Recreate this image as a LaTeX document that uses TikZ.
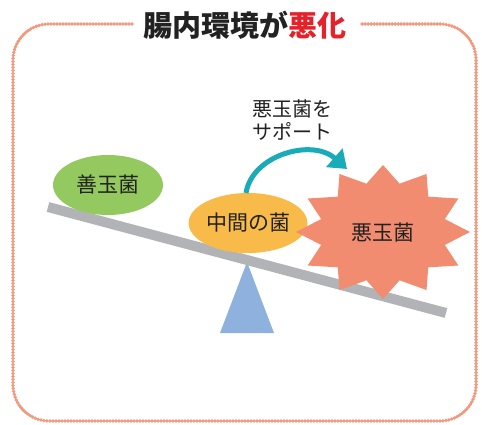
\documentclass[tikz,border=0pt]{standalone}
\usepackage{fontspec}
\newfontfamily\cjk{Noto Sans CJK JP}
\usetikzlibrary{arrows.meta,shapes.geometric}
\definecolor{bordc}{HTML}{F19A7D}
\definecolor{goodc}{HTML}{93C95F}
\definecolor{midc}{HTML}{F8BB4A}
\definecolor{badc}{HTML}{F28C70}
\definecolor{beamc}{HTML}{B2B3B6}
\definecolor{fulc}{HTML}{8FB1DD}
\definecolor{arrc}{HTML}{19ABB8}
\definecolor{redc}{HTML}{E62129}
\definecolor{txtc}{HTML}{222222}
\tikzset{
  border/.style={draw=bordc,line width=3.8pt,line cap=round,dash pattern=on 0pt off 3pt,rounded corners=36pt},
  blob/.style={ellipse,inner sep=0pt,font=\cjk\fontsize{21}{21}\selectfont,text=txtc},
  lbl/.style={font=\cjk\fontsize{20}{23.5}\selectfont,text=txtc,align=center,inner sep=0pt},
}
\begin{document}
\begin{tikzpicture}[x=1pt,y=-1pt]
\useasboundingbox (0,0) rectangle (482,425);
% frame with gap for title
\draw[border] (132,24) -- (13,24) -- (13,421) -- (476,421) -- (476,24) -- (360,24);
\node[font=\cjk\bfseries\fontsize{29}{29}\selectfont,text=txtc,inner sep=0pt] (title) at (245,25) {腸内環境が\textcolor{redc}{悪化}};
% fulcrum
\fill[fulc] (220,333) -- (274,333) -- (247,262) -- cycle;
\node[coordinate] (fulcrum) at (247,262) {};
% beam
\coordinate (bl) at (48,207);
\coordinate (br) at (446,313);
\draw[beamc,line width=10pt] (bl) -- (br);
% good bacteria
\node[blob,fill=goodc,minimum width=110pt,minimum height=60pt] (good) at (108,185) {善玉菌};
% middle bacteria
\node[blob,fill=midc,minimum width=103pt,minimum height=60pt] (mid) at (248,223) {中間の菌};
% bad bacteria starburst
\begin{scope}[shift={(383,232)}]
\fill[badc] (90:87 and 67)
  \foreach \i in {0,...,11}{ -- ({105+30*\i}:64 and 50) -- ({120+30*\i}:87 and 67) } -- cycle;
\end{scope}
\node[lbl,font=\cjk\fontsize{21}{21}\selectfont] (bad) at (383,233) {悪玉菌};
% support text
\node[lbl] (sup) at (292,120) {悪玉菌を\\サポート};
% arrow
\coordinate (tip) at (347,169);
\draw[arrc,line width=5pt,-{Triangle[length=17pt,width=24pt]}] (246,193) .. controls (252,155) and (312,138) .. (tip);
\end{tikzpicture}
\end{document}
